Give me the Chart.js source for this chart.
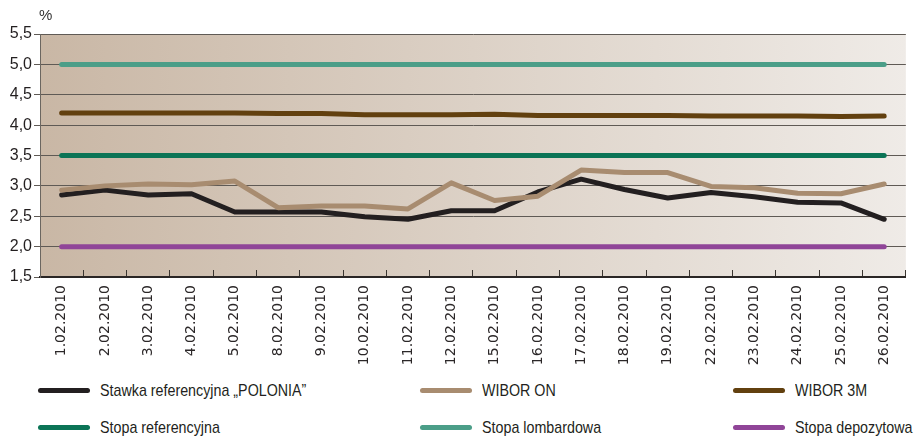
<!DOCTYPE html>
<html>
<head>
<meta charset="utf-8">
<script src="https://cdn.jsdelivr.net/npm/chart.js@4"></script>
<style>
  html, body { margin: 0; padding: 0; background: #fff; }
  #wrap { position: relative; width: 916px; height: 436px; font-family: "Liberation Sans", sans-serif; color: #231f20; }
  #box { position: absolute; left: 0; top: 0; width: 916px; height: 372px; }
  #pct { position: absolute; left: 39px; top: 6px; font: 15px "Liberation Sans", sans-serif; color: #333; }
  .lg { position: absolute; font-size: 17px; line-height: 20px; white-space: nowrap; }
  .lg span { display: inline-block; width: 52px; height: 5px; border-radius: 3px; vertical-align: middle; margin-right: 10px; position: relative; top: -1px; }
  .lg i { font-style: normal; display: inline-block; transform: scaleX(0.84); transform-origin: left center; }
</style>
</head>
<body>
<div id="wrap">
  <div id="box"><canvas id="myChart"></canvas></div>
  <div id="pct">%</div>
  <div id="legend"></div>
</div>
<script>
var days = ["1.02.2010", "2.02.2010", "3.02.2010", "4.02.2010", "5.02.2010", "8.02.2010", "9.02.2010",
  "10.02.2010", "11.02.2010", "12.02.2010", "15.02.2010", "16.02.2010", "17.02.2010", "18.02.2010",
  "19.02.2010", "22.02.2010", "23.02.2010", "24.02.2010", "25.02.2010", "26.02.2010"]

var polonia = [2.85, 2.93, 2.85, 2.87, 2.57, 2.57, 2.57, 2.49, 2.45, 2.59, 2.59, 2.90, 3.11, 2.94, 2.80, 2.89, 2.82, 2.73, 2.72, 2.45]
var wiborOn = [2.93, 3.00, 3.03, 3.02, 3.08, 2.64, 2.67, 2.67, 2.62, 3.05, 2.76, 2.83, 3.26, 3.22, 3.22, 2.99, 2.97, 2.88, 2.87, 3.03]
var wibor3m = [4.20, 4.20, 4.20, 4.20, 4.20, 4.19, 4.19, 4.17, 4.17, 4.17, 4.18, 4.16, 4.16, 4.16, 4.16, 4.15, 4.15, 4.15, 4.14, 4.15]
var stopaRef = [3.5, 3.5, 3.5, 3.5, 3.5, 3.5, 3.5, 3.5, 3.5, 3.5, 3.5, 3.5, 3.5, 3.5, 3.5, 3.5, 3.5, 3.5, 3.5, 3.5]
var stopaLomb = [5.0, 5.0, 5.0, 5.0, 5.0, 5.0, 5.0, 5.0, 5.0, 5.0, 5.0, 5.0, 5.0, 5.0, 5.0, 5.0, 5.0, 5.0, 5.0, 5.0]
var stopaDep = [2.0, 2.0, 2.0, 2.0, 2.0, 2.0, 2.0, 2.0, 2.0, 2.0, 2.0, 2.0, 2.0, 2.0, 2.0, 2.0, 2.0, 2.0, 2.0, 2.0]

var yTickLabels = ["1,5", "2,0", "2,5", "3,0", "3,5", "4,0", "4,5", "5,0", "5,5"]

var seriesNames = ["Stawka referencyjna \u201ePOLONIA\u201d", "WIBOR ON", "WIBOR 3M",
  "Stopa referencyjna", "Stopa lombardowa", "Stopa depozytowa"]
var seriesColors = ["#231f20", "#a88c70", "#62400f", "#0b7456", "#4b9e88", "#904598"]
var seriesData = [polonia, wiborOn, wibor3m, stopaRef, stopaLomb, stopaDep]

// legend, 3 columns x 2 rows
var legX = [38, 420, 733]
var legY = [381, 418]
var legend = document.getElementById("legend")
seriesNames.forEach(function (name, i) {
  var d = document.createElement("div")
  d.className = "lg"
  d.style.left = legX[i % 3] + "px"
  d.style.top = legY[Math.floor(i / 3)] + "px"
  d.innerHTML = '<span style="background:' + seriesColors[i] + '"></span><i>' + name + '</i>'
  legend.appendChild(d)
})

var bgPlugin = {
  id: "bg",
  beforeDraw: function (chart) {
    var a = chart.chartArea, ctx = chart.ctx
    var g = ctx.createLinearGradient(a.left, 0, a.right, 0)
    g.addColorStop(0, "#c9b7a5")
    g.addColorStop(1, "#efebe7")
    ctx.save()
    ctx.fillStyle = g
    ctx.fillRect(a.left, a.top, a.right - a.left, a.bottom - a.top)
    ctx.restore()
  }
}

var ctx = document.getElementById("myChart").getContext("2d")
var chart = new Chart(ctx, {
  type: "line",
  data: {
    labels: days,
    datasets: seriesData.map(function (d, i) {
      return {
        label: seriesNames[i],
        data: d,
        borderColor: seriesColors[i],
        backgroundColor: seriesColors[i],
        borderWidth: 5,
        pointRadius: 0,
        tension: 0,
        borderCapStyle: "round",
        borderJoinStyle: "round",
        order: i == 1 ? 0 : i + 1
      }
    })
  },
  options: {
    responsive: true,
    maintainAspectRatio: false,
    animation: false,
    layout: { padding: { top: 34, right: 0, left: 0, bottom: 0 } },
    plugins: { legend: { display: false }, tooltip: { enabled: false } },
    scales: {
      x: {
        offset: true,
        afterFit: function (s) { s.height = 95 },
        grid: { offset: true, drawOnChartArea: false, drawTicks: true, tickLength: -7, color: "#3a3530", lineWidth: 1 },
        border: { display: true, color: "#2a2625", width: 2 },
        ticks: {
          autoSkip: false, minRotation: 90, maxRotation: 90, padding: 15,
          color: "#2b2728", font: { family: "DejaVu Sans", size: 14 }
        }
      },
      y: {
        min: 1.5, max: 5.5,
        afterFit: function (s) { s.width = 40 },
        grid: { color: "#5f5a55", lineWidth: 1, drawTicks: true, tickLength: 6 },
        border: { display: true, color: "#6b6660", width: 1 },
        ticks: {
          stepSize: 0.5, padding: 2,
          color: "#231f20", font: { family: "Liberation Sans", size: 16 },
          callback: function (v, i) { return yTickLabels[i] }
        }
      }
    }
  },
  plugins: [bgPlugin]
})
</script>
</body>
</html>
